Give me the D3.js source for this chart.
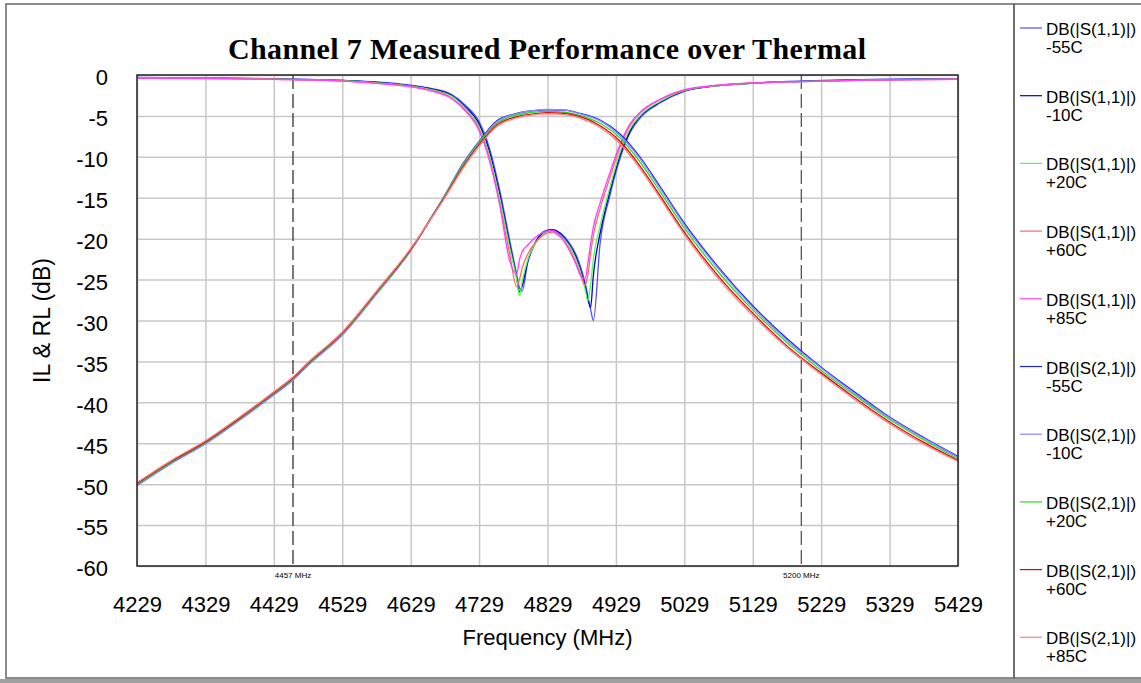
<!DOCTYPE html>
<html>
<head>
<meta charset="utf-8">
<title>Channel 7 Measured Performance over Thermal</title>
<script src="https://d3js.org/d3.v7.min.js"></script>
<style type="text/css">
	body { margin: 0; background: #fff; }
	.grid line { stroke: #c8c8c8; stroke-width: 1.5; }
	.grid .domain { display: none; }
	.ticks text { font-family: "Liberation Sans", Arial, sans-serif; font-size: 22px; fill: #000; }
	.ticks .domain, .ticks line { display: none; }
	.trace { fill: none; stroke-width: 1.3; }
	.legend text { font-family: "Liberation Sans", Arial, sans-serif; font-size: 17px; fill: #000; }
</style>
</head>
<body>
<div id="chart"></div>
<script type="text/javascript">
var svg_width = 1141;
var svg_height = 683;
var margin = {top: 75, left: 137};
var width = 821;
var height = 491;

// ---- data ----
var xTicks = [4229, 4329, 4429, 4529, 4629, 4729, 4829, 4929, 5029, 5129, 5229, 5329, 5429];
var yTicks = [0, -5, -10, -15, -20, -25, -30, -35, -40, -45, -50, -55, -60];
var markers = [4457, 5200];
var markerLabels = ["4457 MHz", "5200 MHz"];

var fS11 = [4229, 4329, 4429, 4529, 4579, 4629, 4659, 4689, 4709, 4729, 4744, 4759, 4774, 4784, 4788, 4792,
            4800, 4812, 4824, 4835, 4848, 4860, 4870, 4878, 4884, 4888, 4892, 4896, 4906, 4920, 4935, 4950,
            4965, 4994, 5029, 5079, 5129, 5200, 5300, 5429];
var s11_m55 = [-0.3, -0.35, -0.45, -0.65, -0.85, -1.25, -1.65, -2.4, -3.7, -5.7, -8.9, -14.0, -20.3, -24.4, -26.0, -26.4,
               -23.0, -20.3, -19.1, -18.9, -19.3, -20.4, -21.8, -23.6, -25.4, -27.0, -28.6, -30.0, -20.5, -14.8, -10.2, -7.0,
               -5.2, -3.4, -2.0, -1.3, -1.0, -0.75, -0.55, -0.45];
var s11_m10 = [-0.32, -0.37, -0.47, -0.67, -0.9, -1.3, -1.7, -2.5, -3.9, -6.0, -9.3, -14.5, -20.8, -24.8, -26.5, -25.8,
               -22.8, -20.4, -19.2, -18.9, -19.4, -20.6, -22.1, -24.0, -25.8, -27.4, -28.4, -24.5, -19.3, -14.3, -9.8, -6.8,
               -5.0, -3.3, -1.95, -1.3, -1.0, -0.78, -0.58, -0.48];
var s11_p20 = [-0.35, -0.4, -0.5, -0.7, -0.95, -1.35, -1.8, -2.6, -4.1, -6.3, -9.8, -15.0, -21.2, -25.0, -27.0, -25.2,
               -22.6, -20.5, -19.4, -19.1, -19.6, -20.8, -22.4, -24.3, -26.2, -27.6, -25.6, -22.5, -18.4, -13.8, -9.4, -6.5,
               -4.9, -3.2, -1.9, -1.3, -1.0, -0.8, -0.6, -0.5];
var s11_p60 = [-0.37, -0.42, -0.52, -0.72, -1.0, -1.4, -1.9, -2.8, -4.3, -6.6, -10.2, -15.6, -22.0, -25.9, -25.0, -23.6,
               -21.9, -20.4, -19.5, -19.2, -19.8, -21.1, -22.8, -24.6, -25.7, -24.4, -21.8, -19.6, -16.3, -12.6, -8.8, -6.1,
               -4.6, -3.0, -1.85, -1.25, -0.98, -0.8, -0.62, -0.52];
var s11_p85 = [-0.38, -0.43, -0.53, -0.74, -1.02, -1.45, -1.95, -2.9, -4.4, -6.8, -10.4, -15.8, -22.8, -24.3, -22.6, -21.6,
               -20.8, -19.8, -19.2, -19.0, -19.7, -21.3, -23.0, -24.6, -24.9, -23.0, -20.6, -18.6, -15.6, -12.0, -8.5, -5.9,
               -4.5, -2.95, -1.8, -1.25, -0.98, -0.8, -0.62, -0.52];

var fS21 = [4229, 4279, 4329, 4379, 4429, 4457, 4479, 4529, 4579, 4629, 4659, 4679, 4704, 4729, 4755, 4779, 4804,
            4829, 4854, 4877, 4906, 4935, 4964, 4994, 5029, 5079, 5129, 5179, 5229, 5279, 5329, 5379, 5429];
var s21_m55 = [-50.1, -47.4, -45.0, -42.1, -39.0, -37.2, -35.4, -31.7, -26.7, -21.4, -17.4, -14.7, -11.0, -8.1, -5.6, -4.8, -4.4,
               -4.25, -4.3, -4.7, -5.5, -7.2, -10.0, -13.7, -18.1, -23.5, -28.2, -32.2, -35.7, -38.8, -41.8, -44.3, -46.6];
var s21_m10 = [-50.2, -47.5, -45.1, -42.2, -39.1, -37.3, -35.5, -31.8, -26.8, -21.5, -17.5, -14.7, -11.1, -8.2, -5.7, -4.85, -4.4,
               -4.2, -4.3, -4.75, -5.6, -7.4, -10.2, -13.9, -18.3, -23.7, -28.4, -32.4, -35.8, -39.0, -41.9, -44.4, -46.7];
var s21_p20 = [-50.0, -47.3, -44.9, -42.0, -38.9, -37.1, -35.3, -31.6, -26.6, -21.4, -17.5, -14.8, -11.2, -8.3, -5.9, -5.0, -4.6,
               -4.45, -4.55, -4.95, -5.9, -7.7, -10.6, -14.3, -18.7, -24.1, -28.7, -32.7, -36.1, -39.2, -42.1, -44.6, -46.9];
var s21_p60 = [-49.9, -47.2, -44.8, -41.9, -38.8, -37.0, -35.2, -31.5, -26.5, -21.3, -17.5, -14.9, -11.4, -8.5, -6.1, -5.2, -4.8,
               -4.6, -4.7, -5.1, -6.2, -8.1, -11.1, -14.8, -19.2, -24.6, -29.1, -33.1, -36.4, -39.5, -42.4, -44.9, -47.1];
var s21_p85 = [-49.8, -47.1, -44.7, -41.8, -38.7, -36.9, -35.1, -31.4, -26.4, -21.2, -17.5, -15.0, -11.6, -8.7, -6.3, -5.35, -4.9,
               -4.75, -4.85, -5.3, -6.4, -8.4, -11.4, -15.1, -19.5, -24.9, -29.4, -33.3, -36.6, -39.7, -42.6, -45.1, -47.2];

var legendNames = ["DB(|S(1,1)|)", "DB(|S(1,1)|)", "DB(|S(1,1)|)", "DB(|S(1,1)|)", "DB(|S(1,1)|)",
                   "DB(|S(2,1)|)", "DB(|S(2,1)|)", "DB(|S(2,1)|)", "DB(|S(2,1)|)", "DB(|S(2,1)|)"];
var legendTemps = ["-55C", "-10C", "+20C", "+60C", "+85C", "-55C", "-10C", "+20C", "+60C", "+85C"];
var colors = ["#5050ff", "#0000c8", "#50ff50", "#ff6868", "#ff40ff",
              "#2020ff", "#8888ff", "#20e020", "#e80000", "#ff8080"];

var series = [
	{f: fS11, v: s11_m55}, {f: fS11, v: s11_m10}, {f: fS11, v: s11_p20}, {f: fS11, v: s11_p60}, {f: fS11, v: s11_p85},
	{f: fS21, v: s21_m55}, {f: fS21, v: s21_m10}, {f: fS21, v: s21_p20}, {f: fS21, v: s21_p60}, {f: fS21, v: s21_p85}
];
series.forEach(function(s, i) {
	s.color = colors[i];
	s.points = s.f.map(function(f, j) { return [f, s.v[j]]; });
});

var svg = d3.select("#chart")
	.append("svg")
	.attr("width", svg_width)
	.attr("height", svg_height);

// frame
svg.append("rect").attr("x", 6).attr("y", 4).attr("width", 1008).attr("height", 674)
	.attr("fill", "none").attr("stroke", "#666").attr("stroke-width", 1.5);
svg.append("rect").attr("x", 1014).attr("y", 4).attr("width", 130).attr("height", 674)
	.attr("fill", "none").attr("stroke", "#666").attr("stroke-width", 1.5);
svg.append("rect").attr("x", 0).attr("y", 679).attr("width", svg_width).attr("height", 4)
	.attr("fill", "#a0a0a0");

var x = d3.scaleLinear().domain([4229, 5429]).range([0, width]);
var y = d3.scaleLinear().domain([-60, 0]).range([height, 0]);
var plain = function(d) { return String(d); };  // keep ASCII hyphen like the original

var g = svg.append("g")
	.attr("transform", "translate(" + margin.left + "," + margin.top + ")");

// grid
g.append("g").attr("class", "grid")
	.attr("transform", "translate(0," + height + ")")
	.call(d3.axisBottom(x).tickValues(xTicks).tickSize(-height).tickFormat(""));
g.append("g").attr("class", "grid")
	.call(d3.axisLeft(y).tickValues(yTicks).tickSize(-width).tickFormat(""));

// tick labels
g.append("g").attr("class", "ticks")
	.attr("transform", "translate(0," + height + ")")
	.call(d3.axisBottom(x).tickValues(xTicks).tickSize(0).tickPadding(30).tickFormat(plain));
g.append("g").attr("class", "ticks")
	.call(d3.axisLeft(y).tickValues(yTicks).tickSize(0).tickPadding(29).tickFormat(plain))
	.selectAll("text").attr("dy", "0.45em");

// markers
markers.forEach(function(m, i) {
	g.append("line")
		.attr("x1", x(m)).attr("x2", x(m))
		.attr("y1", 0).attr("y2", height)
		.attr("stroke", i == 0 ? "#333" : "#555")
		.attr("stroke-width", 1.3)
		.attr("stroke-dasharray", "14,5");
	g.append("text")
		.attr("x", x(m)).attr("y", height + 12)
		.attr("text-anchor", "middle")
		.style("font-family", "Liberation Sans, Arial, sans-serif")
		.style("font-size", "8px")
		.text(markerLabels[i]);
});

// traces
var line = d3.line()
	.x(function(d) { return x(d[0]); })
	.y(function(d) { return y(d[1]); })
	.curve(d3.curveMonotoneX);

g.selectAll(".trace")
	.data(series)
	.enter()
	.append("path")
	.attr("class", "trace")
	.attr("stroke", function(d) { return d.color; })
	.attr("d", function(d) { return line(d.points); });

// plot border
g.append("rect").attr("width", width).attr("height", height)
	.attr("fill", "none").attr("stroke", "#222").attr("stroke-width", 1.5);

// titles
svg.append("text")
	.attr("x", 547).attr("y", 59)
	.attr("text-anchor", "middle")
	.attr("textLength", 638)
	.attr("lengthAdjust", "spacing")
	.style("font-family", "Liberation Serif, Times New Roman, serif")
	.style("font-weight", "bold")
	.style("font-size", "30px")
	.text("Channel 7 Measured Performance over Thermal");

svg.append("text")
	.attr("x", margin.left + width / 2).attr("y", 645)
	.attr("text-anchor", "middle")
	.style("font-family", "Liberation Sans, Arial, sans-serif")
	.style("font-size", "22px")
	.text("Frequency (MHz)");

svg.append("text")
	.attr("transform", "translate(50," + (margin.top + height / 2) + ") rotate(-90)")
	.attr("text-anchor", "middle")
	.style("font-family", "Liberation Sans, Arial, sans-serif")
	.style("font-size", "23px")
	.text("IL & RL (dB)");

// legend
var legend = svg.append("g").attr("class", "legend");
series.forEach(function(s, i) {
	var ly = 28 + i * 67.7;
	legend.append("line")
		.attr("x1", 1020).attr("x2", 1042)
		.attr("y1", ly).attr("y2", ly)
		.attr("stroke", s.color).attr("stroke-width", 1.2);
	legend.append("text").attr("x", 1046).attr("y", ly + 7).text(legendNames[i]);
	legend.append("text").attr("x", 1046).attr("y", ly + 25).text(legendTemps[i]);
});
</script>
</body>
</html>
